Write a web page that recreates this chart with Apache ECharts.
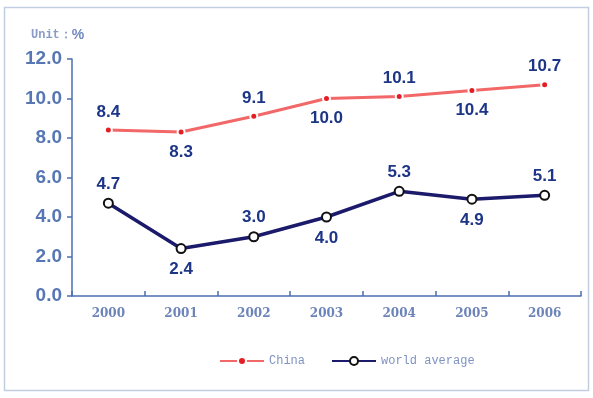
<!DOCTYPE html>
<html>
<head>
<meta charset="UTF-8">
<title>China vs world average</title>
<script src="https://cdn.jsdelivr.net/npm/echarts@6/dist/echarts.min.js"></script>
<style>
  body { margin: 0; background: #fff; }
  #chart { width: 593px; height: 398px; }
</style>
</head>
<body>
<div id="chart"></div>
<script>
  // data
  var years = ['2000', '2001', '2002', '2003', '2004', '2005', '2006'];
  var china = [8.4, 8.3, 9.1, 10.0, 10.1, 10.4, 10.7];
  var world = [4.7, 2.4, 3.0, 4.0, 5.3, 4.9, 5.1];
  // label above (true) or below (false) the point
  var chinaUp = [true, false, true, false, true, false, true];
  var worldUp = [true, false, true, false, true, false, true];

  var axisBlue = '#4d6fb3';
  var labelNavy = '#1c3587';

  function withLabels(values, up) {
    var out = [];
    for (var i = 0; i < values.length; i++) {
      out.push({
        value: values[i],
        label: { position: up[i] ? 'top' : 'bottom', distance: up[i] ? 5 : 7 }
      });
    }
    return out;
  }

  var labelStyle = {
    show: true,
    color: labelNavy,
    fontFamily: 'Arial, Liberation Sans, sans-serif',
    fontWeight: 'bold',
    fontSize: 17,
    formatter: function (p) { return p.value.toFixed(1); }
  };

  var chart = echarts.init(document.getElementById('chart'));
  chart.setOption({
    animation: false,
    graphic: [{
      type: 'rect',
      shape: { x: 4.5, y: 7.5, width: 584, height: 383 },
      style: { fill: 'none', stroke: '#c3cde2', lineWidth: 1.5 },
      silent: true
    }],
    title: {
      text: '{a|Unit：}{b|%}',
      left: 26,
      top: 23,
      textStyle: {
        rich: {
          a: { fontFamily: 'Liberation Mono, monospace', fontSize: 12, color: '#8a9cc6' },
          b: { fontFamily: 'Arial, sans-serif', fontSize: 14, fontWeight: 'bold', color: '#7189bf' }
        }
      }
    },
    legend: [{
      data: ['China'],
      left: 214,
      top: 350,
      itemWidth: 44,
      itemHeight: 10,
      itemGap: 4,
      textStyle: { fontFamily: 'Liberation Mono, monospace', fontSize: 12, color: '#7f92c2' }
    }, {
      data: ['world average'],
      left: 326,
      top: 350,
      itemWidth: 44,
      itemHeight: 10,
      itemGap: 4,
      textStyle: { fontFamily: 'Liberation Mono, monospace', fontSize: 12, color: '#7f92c2' }
    }],
    grid: { left: 72, right: 12, top: 59, bottom: 102 },
    xAxis: {
      type: 'category',
      data: years,
      boundaryGap: true,
      axisLine: { lineStyle: { color: axisBlue, width: 1.5 } },
      axisTick: { show: true, inside: true, length: 5, lineStyle: { color: axisBlue, width: 1.5 } },
      axisLabel: {
        margin: 12,
        color: '#6d84b8',
        fontFamily: 'DejaVu Serif, Liberation Serif, serif',
        fontWeight: 'bold',
        fontSize: 12
      },
      splitLine: { show: false }
    },
    yAxis: {
      type: 'value',
      min: 0,
      max: 12,
      interval: 2,
      axisLine: { show: true, lineStyle: { color: axisBlue, width: 1.5 } },
      axisTick: { show: true, length: 5, lineStyle: { color: axisBlue, width: 1.5 } },
      axisLabel: {
        margin: 10,
        color: '#5676b4',
        fontFamily: 'Arial, Liberation Sans, sans-serif',
        fontWeight: 'bold',
        fontSize: 19,
        formatter: function (v) { return v.toFixed(1); }
      },
      splitLine: { show: false }
    },
    series: [{
      name: 'China',
      type: 'line',
      data: withLabels(china, chinaUp),
      symbol: 'circle',
      symbolSize: 7,
      lineStyle: { color: '#f26767', width: 3 },
      itemStyle: { color: '#e31e24', borderColor: '#fff', borderWidth: 2 },
      label: labelStyle,
      z: 3
    }, {
      name: 'world average',
      type: 'line',
      data: withLabels(world, worldUp),
      symbol: 'circle',
      symbolSize: 9,
      showAllSymbol: true,
      lineStyle: { color: '#1b1a6b', width: 3.5 },
      itemStyle: { color: '#fff', borderColor: '#111', borderWidth: 2 },
      label: labelStyle,
      z: 3
    }]
  });
</script>
</body>
</html>
